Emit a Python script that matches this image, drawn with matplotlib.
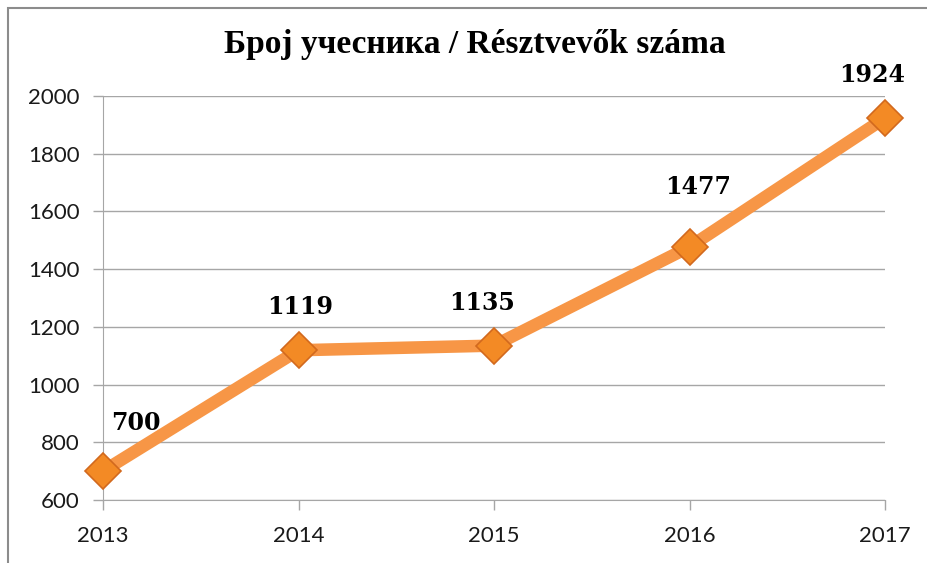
import matplotlib.pyplot as plt
from matplotlib.patches import Rectangle

years = [2013, 2014, 2015, 2016, 2017]
participants = [700, 1119, 1135, 1477, 1924]
yticks = [600, 800, 1000, 1200, 1400, 1600, 1800, 2000]

# label offsets in points (dx, dy), as placed in the original
label_offsets = [(24, 35), (1, 31), (-9, 31), (6, 43), (-9, 31)]

orange = '#F79646'
grid_grey = '#A6A6A6'

fig = plt.figure(figsize=(9.27, 5.63), dpi=100)
ax = fig.add_axes([103 / 927, 1 - 500 / 563, 782 / 927, 404 / 563])

ax.plot(years, participants, color=orange, lw=9, solid_capstyle='butt',
        marker='D', ms=18.5, mfc='#F38A25', mec='#D2691E', mew=1.2,
        clip_on=False, zorder=3)

for x, y, (dx, dy) in zip(years, participants, label_offsets):
    ax.annotate(str(y), (x, y), xytext=(dx, dy), textcoords='offset points',
                ha='center', va='center', fontsize=17, fontweight='bold',
                family='DejaVu Serif', color='black')

ax.set_xlim(2013, 2017)
ax.set_ylim(600, 2000)
ax.set_xticks(years)
ax.set_yticks(yticks)
ax.grid(axis='y', color=grid_grey, lw=1)
ax.set_axisbelow(True)
for side in ['top', 'right']:
    ax.spines[side].set_visible(False)
for side in ['left', 'bottom']:
    ax.spines[side].set_color(grid_grey)
ax.tick_params(axis='both', colors=grid_grey, length=7, width=1,
               labelcolor='#1a1a1a', labelsize=16)
ax.tick_params(axis='x', pad=12)
ax.tick_params(axis='y', pad=10)
for lab in ax.get_xticklabels() + ax.get_yticklabels():
    lab.set_family('Lato')

fig.text(475 / 927, 1 - 44 / 563, 'Број учесника / Résztvevők száma',
         ha='center', va='center', fontsize=24, fontweight='bold',
         family='Liberation Serif')

fig.patches.append(Rectangle((8 / 927, -0.1), 1.2, 1 - 8 / 563 + 0.1,
                             transform=fig.transFigure, fill=False,
                             ec='#8C8C8C', lw=1.5))

fig.savefig('out.png')
